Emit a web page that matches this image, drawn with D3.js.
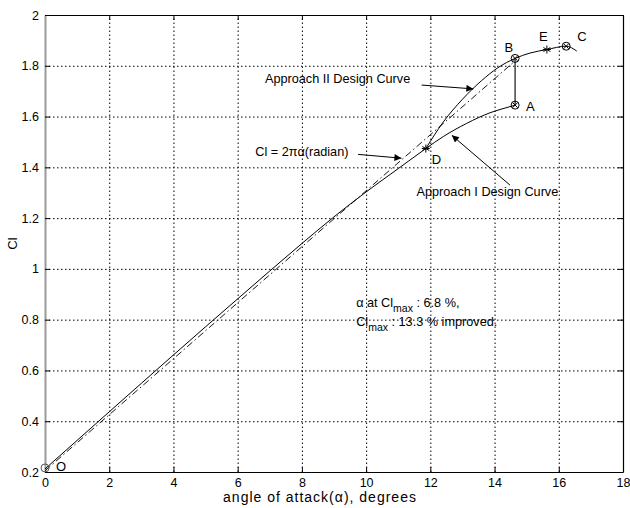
<!DOCTYPE html>
<html>
<head>
<meta charset="utf-8">
<script src="https://cdn.jsdelivr.net/npm/d3@7"></script>
<style>
  html, body { margin: 0; padding: 0; background: #fff; }
  svg { display: block; font-family: "Liberation Sans", Arial, sans-serif; }
  .grid line { stroke: #000; stroke-width: 1px; stroke-dasharray: 1.5 2.5; }
  .grid .domain { display: none; }
</style>
</head>
<body>
<svg id="chart" width="630" height="508"></svg>
<script>
// Tick values
const xTicks = [0, 2, 4, 6, 8, 10, 12, 14, 16, 18];
const yTicks = [0.2, 0.4, 0.6, 0.8, 1, 1.2, 1.4, 1.6, 1.8, 2];

// Base lift curve from O up to D (angle in degrees, Cl)
const baseAlpha = [0, 2, 4, 6, 8, 9, 10, 11, 11.86];
const baseCl    = [0.212, 0.437, 0.661, 0.882, 1.100, 1.205, 1.303, 1.395, 1.474];

// Thin-airfoil line Cl = 2πα (radian)
const thinAlpha = [0, 14.6];
const thinCl    = [0.205, 1.815];

// Approach I design curve, D -> A
const app1Alpha = [11.86, 12.40, 13.13, 13.86, 14.48, 14.64];
const app1Cl    = [1.474, 1.521, 1.573, 1.615, 1.639, 1.645];

// Approach II design curve, D -> B -> E -> C
const app2Alpha = [11.86, 12.4, 13.0, 13.6, 14.1, 14.64, 15.1, 15.63, 16.23, 16.56];
const app2Cl    = [1.474, 1.578, 1.668, 1.742, 1.792, 1.829, 1.850, 1.864, 1.877, 1.858];

// Named points
const ptNames = ["O", "D", "A", "B", "E", "C"];
const ptAlpha = [0, 11.86, 14.64, 14.64, 15.63, 16.23];
const ptCl    = [0.216, 1.474, 1.645, 1.829, 1.864, 1.877];
const ptKind  = ["circle", "star", "ocross", "ocross", "star", "ocross"];

const svg = d3.select("#chart");
const x = d3.scaleLinear().domain([0, 18]).range([45, 623]);
const y = d3.scaleLinear().domain([0.2, 2]).range([472, 15]);

const zip = (a, b) => a.map((v, i) => [v, b[i]]);

// dotted grid drawn as full-length axis ticks
const plotW = x(18) - x(0), plotH = y(0.2) - y(2);
svg.append("g").attr("class", "grid").attr("transform", `translate(0,${y(0.2)})`)
  .call(d3.axisBottom(x).tickValues(xTicks.slice(1, -1)).tickSize(-plotH).tickFormat(""));
svg.append("g").attr("class", "grid").attr("transform", `translate(${x(0)},0)`)
  .call(d3.axisLeft(y).tickValues(yTicks.slice(1, -1)).tickSize(-plotW).tickFormat(""));

// axes with inward ticks
const fmt = d => String(d);
const gB = svg.append("g").attr("transform", `translate(0,${y(0.2)})`)
  .call(d3.axisBottom(x).tickValues(xTicks).tickSizeInner(-5).tickSizeOuter(0).tickPadding(6).tickFormat(fmt));
const gT = svg.append("g").attr("transform", `translate(0,${y(2)})`)
  .call(d3.axisTop(x).tickValues(xTicks).tickSizeInner(-5).tickSizeOuter(0).tickFormat(""));
const gL = svg.append("g").attr("transform", `translate(${x(0)},0)`)
  .call(d3.axisLeft(y).tickValues(yTicks).tickSizeInner(-5).tickSizeOuter(0).tickPadding(6).tickFormat(fmt));
const gR = svg.append("g").attr("transform", `translate(${x(18)},0)`)
  .call(d3.axisRight(y).tickValues(yTicks).tickSizeInner(-5).tickSizeOuter(0).tickFormat(""));
[gB, gT, gL, gR].forEach(g => {
  g.selectAll("text").attr("font-size", 12.5).attr("fill", "#000")
    .attr("font-family", "'Liberation Sans', Arial, sans-serif");
  g.selectAll("line").attr("stroke", "#000");
  g.select(".domain").attr("stroke", "#000").attr("stroke-width", 1.2);
});
gL.select(".domain").attr("stroke", "#9a9a9a").attr("stroke-width", 2);

// axis titles
svg.append("text").attr("x", 320).attr("y", 502).attr("text-anchor", "middle")
  .attr("font-size", 14).style("letter-spacing", "1px")
  .text("angle of attack(α), degrees");
svg.append("text").attr("transform", `translate(17,${(y(2) + y(0.2)) / 2}) rotate(-90)`)
  .attr("text-anchor", "middle").attr("font-size", 13).text("Cl");

const line = d3.line().x(d => x(d[0])).y(d => y(d[1]));
const smooth = d3.line().x(d => x(d[0])).y(d => y(d[1])).curve(d3.curveMonotoneX);

// thin-airfoil dash-dot line
svg.append("path").datum(zip(thinAlpha, thinCl)).attr("d", line)
  .attr("fill", "none").attr("stroke", "#000").attr("stroke-width", 0.9)
  .attr("stroke-dasharray", "7,3,1.5,3");

// base curve
svg.append("path").datum(zip(baseAlpha, baseCl)).attr("d", smooth)
  .attr("fill", "none").attr("stroke", "#000").attr("stroke-width", 1);

// design curves
svg.append("path").datum(zip(app1Alpha, app1Cl)).attr("d", smooth)
  .attr("fill", "none").attr("stroke", "#000").attr("stroke-width", 1);
svg.append("path").datum(zip(app2Alpha, app2Cl)).attr("d", smooth)
  .attr("fill", "none").attr("stroke", "#000").attr("stroke-width", 1);

// B to A connector
svg.append("line").attr("x1", x(ptAlpha[3])).attr("x2", x(ptAlpha[2]))
  .attr("y1", y(ptCl[3])).attr("y2", y(ptCl[2]))
  .attr("stroke", "#444").attr("stroke-width", 1.5);

// point markers
const mk = svg.append("g").attr("fill", "none").attr("stroke", "#000").attr("stroke-width", 1);
ptNames.forEach((n, i) => {
  const cx = x(ptAlpha[i]), cy = y(ptCl[i]);
  if (ptKind[i] === "circle" || ptKind[i] === "ocross") {
    mk.append("circle").attr("cx", cx).attr("cy", cy).attr("r", 4)
      .attr("stroke", ptKind[i] === "circle" ? "#555" : "#000");
  }
  if (ptKind[i] === "ocross") {
    const r = 2.6;
    mk.append("path").attr("d", `M${cx - r},${cy - r}L${cx + r},${cy + r}M${cx - r},${cy + r}L${cx + r},${cy - r}`);
  }
  if (ptKind[i] === "star") {
    const r = 4;
    let d = "";
    [0, 60, 120].forEach(a => {
      const t = (a + 90) * Math.PI / 180;
      d += `M${cx - r * Math.cos(t)},${cy - r * Math.sin(t)}L${cx + r * Math.cos(t)},${cy + r * Math.sin(t)}`;
    });
    d += `M${cx - r},${cy}L${cx + r},${cy}`;
    mk.append("path").attr("d", d);
  }
});

// point labels (offsets in pixels from the point)
const labOff = [[11, 3], [6, 15], [11, 6], [-2, -6], [-8, -9], [11, -5]];
ptNames.forEach((n, i) => {
  svg.append("text").attr("x", x(ptAlpha[i]) + labOff[i][0]).attr("y", y(ptCl[i]) + labOff[i][1])
    .attr("font-size", 13).attr("text-anchor", i === 3 ? "end" : "start").text(n);
});

// arrows
const defs = svg.append("defs");
defs.append("marker").attr("id", "arr").attr("viewBox", "0 0 10 10").attr("refX", 10).attr("refY", 5)
  .attr("markerWidth", 10).attr("markerHeight", 7).attr("markerUnits", "userSpaceOnUse")
  .attr("orient", "auto").append("path").attr("d", "M0,0L10,5L0,10Z").attr("fill", "#000");

// annotation texts and arrow targets in data coordinates
const notes = [
  { text: "Approach II Design Curve", tx: 6.85, ty: 1.734, from: [11.73, 1.724], to: [13.34, 1.709] },
  { text: "Cl = 2πα(radian)", tx: 6.55, ty: 1.445, from: [9.75, 1.451], to: [11.1, 1.436] },
  { text: "Approach I Design Curve", tx: 11.57, ty: 1.287, from: [14.48, 1.330], to: [12.67, 1.526] }
];
notes.forEach(n => {
  svg.append("text").attr("x", x(n.tx)).attr("y", y(n.ty)).attr("font-size", 12.7).text(n.text);
  svg.append("line").attr("x1", x(n.from[0])).attr("y1", y(n.from[1]))
    .attr("x2", x(n.to[0])).attr("y2", y(n.to[1]))
    .attr("stroke", "#000").attr("stroke-width", 1).attr("marker-end", "url(#arr)");
});

// improvement summary
const sx = x(9.69);
const t1 = svg.append("text").attr("x", sx).attr("y", y(0.851)).attr("font-size", 12.7);
t1.append("tspan").text("α at Cl");
t1.append("tspan").attr("font-size", 10.5).attr("dy", 5).text("max");
t1.append("tspan").attr("dy", -5).text(" : 6.8 %,");
const t2 = svg.append("text").attr("x", sx).attr("y", y(0.775)).attr("font-size", 12.7);
t2.append("tspan").text("Cl");
t2.append("tspan").attr("font-size", 10.5).attr("dy", 5).text("max");
t2.append("tspan").attr("dy", -5).text(" : 13.3 % improved.");
</script>
</body>
</html>
